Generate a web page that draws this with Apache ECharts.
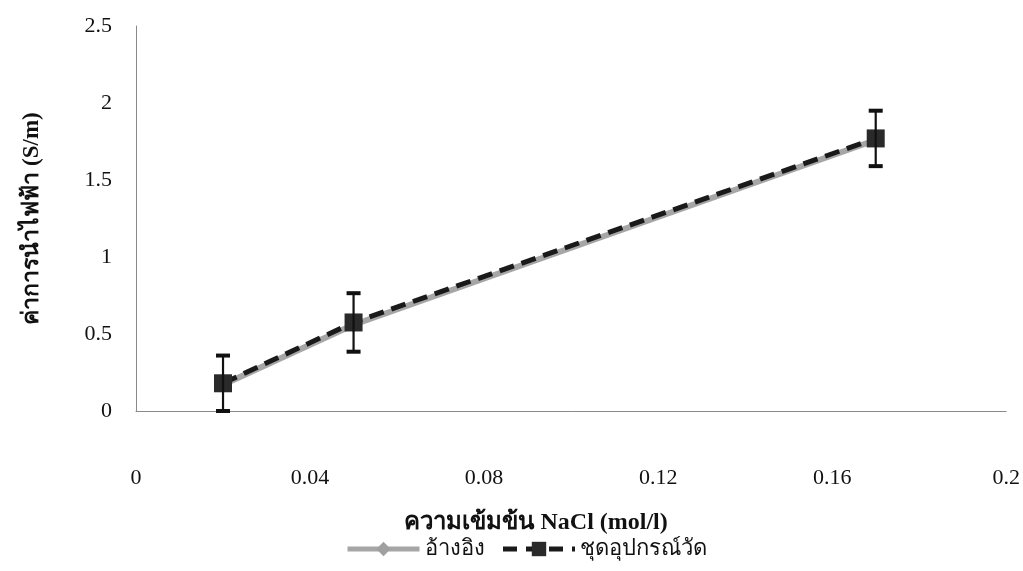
<!DOCTYPE html>
<html><head><meta charset="utf-8">
<script src="https://cdn.jsdelivr.net/npm/echarts@6/dist/echarts.min.js"></script>
<style>html,body{margin:0;padding:0;background:#fff}#c{width:1023px;height:571px}</style>
</head><body><div id="c"></div>
<script>
const concentrations = [0.02, 0.05, 0.17];
const referenceValues = [0.17, 0.56, 1.76];
const measuredValues = [0.18, 0.575, 1.77];
const measuredErrors = [0.18, 0.19, 0.18];
const xTicks = [0, 0.04, 0.08, 0.12, 0.16, 0.2];
const yTicks = [0, 0.5, 1, 1.5, 2, 2.5];
const seriesNames = ['อ้างอิง', 'ชุดอุปกรณ์วัด'];
const xTitle = 'ความเข้มข้น NaCl (mol/l)';
const yTitle = 'ค่าการนำไฟฟ้า (S/m)';

const font = "'Liberation Serif', 'Times New Roman', serif";
const chart = echarts.init(document.getElementById('c'));
const errData = concentrations.map((x, i) => [x, measuredValues[i] - measuredErrors[i], measuredValues[i] + measuredErrors[i]]);

chart.setOption({
  animation: false,
  backgroundColor: '#fff',
  textStyle: { fontFamily: font },
  grid: { left: 136, right: 16, top: 26, bottom: 160 },
  legend: {
    bottom: 6, left: 340,
    itemWidth: 72, itemHeight: 18, itemGap: 16,
    textStyle: { fontFamily: font, fontSize: 22, color: '#111' },
    data: [
      { name: seriesNames[0], lineStyle: { width: 5, color: '#a6a6a6' } },
      { name: seriesNames[1], lineStyle: { width: 5, color: '#1a1a1a', type: [14, 9] } }
    ]
  },
  xAxis: {
    type: 'value', min: 0, max: 0.2, interval: 0.04,
    axisLine: { show: true, lineStyle: { color: '#8a8a8a', width: 1 } },
    axisTick: { show: false },
    splitLine: { show: false },
    axisLabel: { margin: 56, fontSize: 22, color: '#111', fontFamily: font,
      formatter: v => { const t = xTicks.find(k => Math.abs(k - v) < 1e-9); return t === undefined ? '' : String(t); } },
    name: xTitle, nameLocation: 'middle', nameGap: 100,
    nameTextStyle: { fontSize: 24, fontWeight: 'bold', color: '#111', fontFamily: font, padding: [0, 70, 0, 0] }
  },
  yAxis: {
    type: 'value', min: 0, max: 2.5, interval: 0.5,
    axisLine: { show: true, lineStyle: { color: '#8a8a8a', width: 1 } },
    axisTick: { show: false },
    splitLine: { show: false },
    axisLabel: { margin: 24, fontSize: 22, color: '#111', fontFamily: font,
      formatter: v => { const t = yTicks.find(k => Math.abs(k - v) < 1e-9); return t === undefined ? '' : String(t); } },
    name: yTitle, nameLocation: 'middle', nameGap: 92,
    nameTextStyle: { fontSize: 23, fontWeight: 'bold', color: '#111', fontFamily: font }
  },
  series: [
    {
      name: seriesNames[0], type: 'line',
      data: concentrations.map((x, i) => [x, referenceValues[i]]),
      symbol: 'diamond', symbolSize: 16,
      lineStyle: { color: '#a6a6a6', width: 6 },
      itemStyle: { color: '#a0a0a0' },
      z: 2
    },
    {
      name: seriesNames[1], type: 'line',
      data: concentrations.map((x, i) => [x, measuredValues[i]]),
      symbol: 'rect', symbolSize: 18,
      lineStyle: { color: '#1a1a1a', width: 5, type: [15, 8] },
      itemStyle: { color: '#2a2a2a' },
      z: 3
    },
    {
      type: 'custom', name: 'err', silent: true,
      data: errData,
      z: 4,
      renderItem: (params, api) => {
        const x = api.value(0);
        const lo = api.coord([x, api.value(1)]);
        const hi = api.coord([x, api.value(2)]);
        const w = 7;
        const st = { stroke: '#111', lineWidth: 2.2 };
        const cap = { stroke: '#111', lineWidth: 4 };
        return { type: 'group', children: [
          { type: 'line', shape: { x1: lo[0], y1: lo[1], x2: hi[0], y2: hi[1] }, style: st },
          { type: 'line', shape: { x1: lo[0] - w, y1: lo[1], x2: lo[0] + w, y2: lo[1] }, style: cap },
          { type: 'line', shape: { x1: hi[0] - w, y1: hi[1], x2: hi[0] + w, y2: hi[1] }, style: cap }
        ]};
      },
      encode: { x: 0, y: [1, 2] }
    }
  ]
});
</script></body></html>
